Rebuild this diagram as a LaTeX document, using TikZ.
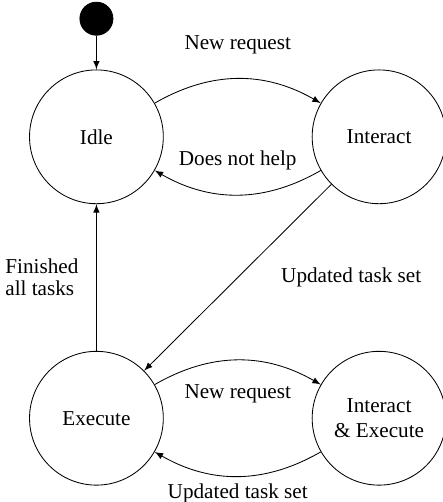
\documentclass[tikz,border=0pt]{standalone}
\usepackage{fontspec}
\setmainfont{Liberation Serif}
\begin{document}
\begin{tikzpicture}[>=latex,line join=bevel,
  statenode/.style={circle,draw,minimum size=2.22cm,inner sep=1pt,align=center},
  startnode/.style={circle,fill=black,draw,minimum size=15.6pt,inner sep=0pt}]
%%
  \useasboundingbox (-1.60,-6.06) rectangle (5.74,2.27);

  \node (node_init) at (0,1.96) [startnode] {};

  \node (node_idle) at (0,0) [statenode] {Idle};

  \node (node_interact) at (4.69,0) [statenode] {Interact};

  \node (node_execute) at (0,-4.67) [statenode] {Execute};

  \node (node_both) at (4.69,-4.67) [statenode] {Interact\\\& Execute};

  \draw [black,->] (node_init) -- (node_idle);
  \draw [black,->] (node_idle) to[bend left=30] node[above=8pt] {New request} (node_interact);
  \draw [black,->] (node_interact) to[bend left=30] node[above=8pt] {Does not help} (node_idle);
  \draw [black,->] (node_interact) -- node[right=17pt] {Updated task set} (node_execute);
  \draw [black,->] (node_execute) -- node[left=5pt,align=left,font={\fontsize{10}{10.2}\selectfont}] {Finished\\all tasks} (node_idle);
  \draw [black,->] (node_execute) to[bend left=30] node[below=8pt] {New request} (node_both);
  \draw [black,->] (node_both) to[bend left=30] node[below] {Updated task set} (node_execute);
%
\end{tikzpicture}
\end{document}
